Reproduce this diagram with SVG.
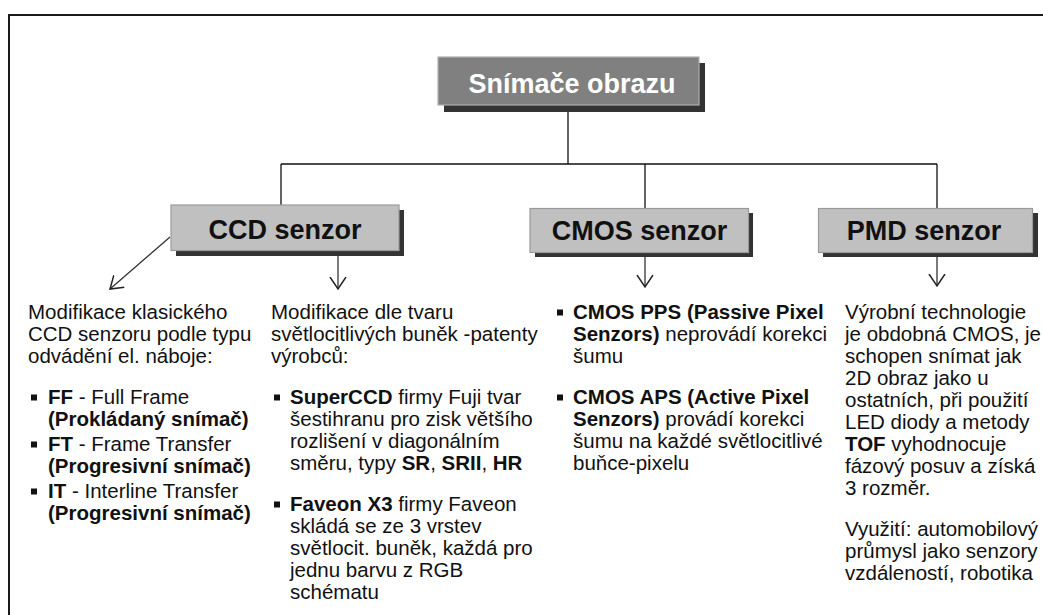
<svg xmlns="http://www.w3.org/2000/svg" width="1043" height="615" viewBox="0 0 1043 615">
<style>
.frame{fill:none;stroke:#1a1a1a;stroke-width:2}
.shadow{fill:#333333}
.box{fill:#C0C0C0;stroke:#9a9a9a;stroke-width:1.2}
.tbox{fill:#808080;stroke:#b0b0b0;stroke-width:1.2}
.lbl{font-family:"Liberation Sans",Arial,sans-serif;font-weight:bold;font-size:27px;fill:#111;text-anchor:middle}
.tlbl{font-family:"Liberation Sans",Arial,sans-serif;font-weight:bold;font-size:27px;fill:#ffffff;text-anchor:middle}
.txt{font-family:"Liberation Sans",Arial,sans-serif;font-size:20.5px;fill:#111}
.b{font-weight:bold}
.bul{fill:#111}
.tree{fill:none;stroke:#111;stroke-width:1.3}
.arr{fill:none;stroke:#333;stroke-width:1.3}
</style>
<defs>
<marker id="vhead" viewBox="0 0 14 20" refX="12" refY="10" markerWidth="14" markerHeight="20" markerUnits="userSpaceOnUse" orient="auto">
<path d="M0,2 L12,10 L0,18" fill="none" stroke="#222" stroke-width="1.5"/>
</marker>
</defs>
<rect width="1043" height="615" fill="#ffffff"/>
<path class="frame" d="M9,615 L9,15 L1043,15"/>

<g id="connectors">
<path class="tree" d="M568,108 L568,164 M281,164 L937,164 M281,164 L281,205 M645,164 L645,208 M937,164 L937,208"/>
<line class="arr" x1="170" y1="237" x2="110" y2="289" marker-end="url(#vhead)"/>
<line class="arr" x1="338" y1="251" x2="338" y2="289" marker-end="url(#vhead)"/>
<line class="arr" x1="645" y1="252" x2="645" y2="287" marker-end="url(#vhead)"/>
<line class="arr" x1="937" y1="252" x2="937" y2="286" marker-end="url(#vhead)"/>
</g>

<g id="title">
<rect class="shadow" x="444" y="63" width="261" height="49"/>
<rect class="tbox" x="438" y="57" width="261" height="48"/>
<text class="tlbl" x="572" y="93">Snímače obrazu</text>
</g>

<g id="ccd">
<rect class="shadow" x="176" y="210" width="228" height="46"/>
<rect class="box" x="171" y="205" width="228" height="45.5"/>
<text class="lbl" x="285" y="239">CCD senzor</text>
</g>

<g id="cmos">
<rect class="shadow" x="535" y="213" width="218" height="44"/>
<rect class="box" x="530" y="208.5" width="218.5" height="44"/>
<text class="lbl" x="639.5" y="240">CMOS senzor</text>
</g>

<g id="pmd">
<rect class="shadow" x="823" y="213" width="215" height="44"/>
<rect class="box" x="818.5" y="208.5" width="214" height="44"/>
<text class="lbl" x="924" y="239.5">PMD senzor</text>
</g>

<g id="ccd-typy">
<text class="txt" x="28" y="319">Modifikace klasického</text>
<text class="txt" x="28" y="341">CCD senzoru podle typu</text>
<text class="txt" x="28" y="363">odvádění el. náboje:</text>
<rect class="bul" x="31" y="394.5" width="6" height="6"/>
<text class="txt" x="48" y="404"><tspan class="b">FF</tspan> - Full Frame</text>
<text class="txt b" x="48" y="425.5">(Prokládaný snímač)</text>
<rect class="bul" x="31" y="441.5" width="6" height="6"/>
<text class="txt" x="48" y="451"><tspan class="b">FT</tspan> - Frame Transfer</text>
<text class="txt b" x="48" y="472.5">(Progresivní snímač)</text>
<rect class="bul" x="31" y="488.5" width="6" height="6"/>
<text class="txt" x="48" y="498"><tspan class="b">IT</tspan> - Interline Transfer</text>
<text class="txt b" x="48" y="519.5">(Progresivní snímač)</text>
</g>

<g id="ccd-patenty">
<text class="txt" x="271" y="319">Modifikace dle tvaru</text>
<text class="txt" x="271" y="341">světlocitlivých buněk -patenty</text>
<text class="txt" x="271" y="363">výrobců:</text>
<rect class="bul" x="274" y="394.5" width="6" height="6"/>
<text class="txt" x="290" y="404"><tspan class="b">SuperCCD</tspan> firmy Fuji tvar</text>
<text class="txt" x="290" y="426">šestihranu pro zisk většího</text>
<text class="txt" x="290" y="448">rozlišení v diagonálním</text>
<text class="txt" x="290" y="470">směru, typy <tspan class="b">SR</tspan>, <tspan class="b">SRII</tspan>, <tspan class="b">HR</tspan></text>
<rect class="bul" x="274" y="501.5" width="6" height="6"/>
<text class="txt" x="290" y="511"><tspan class="b">Faveon X3</tspan> firmy Faveon</text>
<text class="txt" x="290" y="533">skládá se ze 3 vrstev</text>
<text class="txt" x="290" y="555">světlocit. buněk, každá pro</text>
<text class="txt" x="290" y="577">jednu barvu z RGB</text>
<text class="txt" x="290" y="599">schématu</text>
</g>

<g id="cmos-text">
<rect class="bul" x="557" y="309.5" width="6" height="6"/>
<text class="txt" x="573" y="319"><tspan class="b">CMOS PPS (Passive Pixel</tspan></text>
<text class="txt" x="573" y="341"><tspan class="b">Senzors)</tspan> neprovádí korekci</text>
<text class="txt" x="573" y="363">šumu</text>
<rect class="bul" x="557" y="394.5" width="6" height="6"/>
<text class="txt" x="573" y="404"><tspan class="b">CMOS APS (Active Pixel</tspan></text>
<text class="txt" x="573" y="426"><tspan class="b">Senzors)</tspan> provádí korekci</text>
<text class="txt" x="573" y="448">šumu na každé světlocitlivé</text>
<text class="txt" x="573" y="470">buňce-pixelu</text>
</g>

<g id="pmd-text">
<text class="txt" x="845" y="319">Výrobní technologie</text>
<text class="txt" x="845" y="341">je obdobná CMOS, je</text>
<text class="txt" x="845" y="363">schopen snímat jak</text>
<text class="txt" x="845" y="385">2D obraz jako u</text>
<text class="txt" x="845" y="407">ostatních, při použití</text>
<text class="txt" x="845" y="429">LED diody a metody</text>
<text class="txt" x="845" y="451"><tspan class="b">TOF</tspan> vyhodnocuje</text>
<text class="txt" x="845" y="473">fázový posuv a získá</text>
<text class="txt" x="845" y="495">3 rozměr.</text>
<text class="txt" x="845" y="536">Využití: automobilový</text>
<text class="txt" x="845" y="558">průmysl jako senzory</text>
<text class="txt" x="845" y="580">vzdáleností, robotika</text>
</g>
</svg>
